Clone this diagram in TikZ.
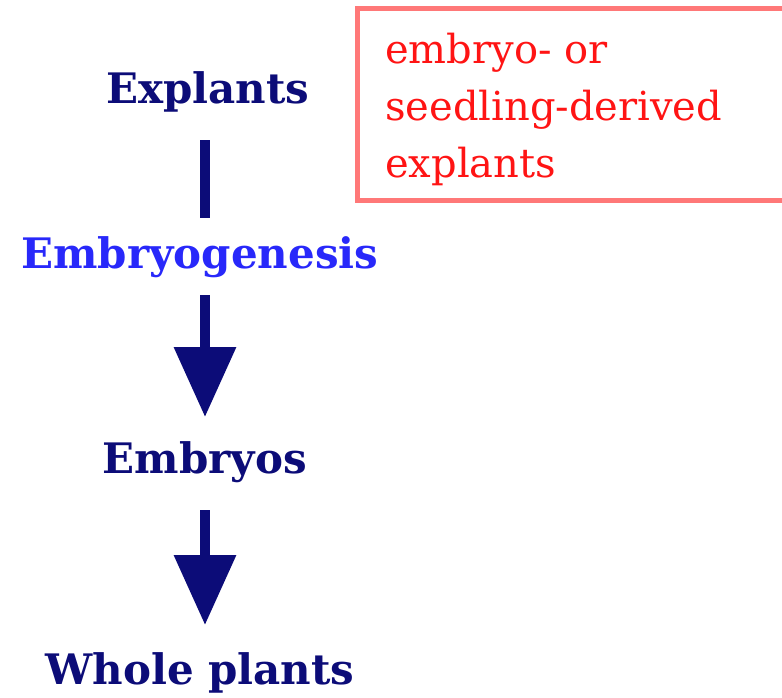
\documentclass[tikz,border=0pt]{standalone}
\usepackage{fontspec}
\setmainfont{DejaVu Serif}
\usetikzlibrary{arrows.meta}
\definecolor{navy}{RGB}{12,12,120}
\definecolor{lblue}{RGB}{40,40,250}
\definecolor{boxred}{RGB}{255,120,120}
\definecolor{txtred}{RGB}{255,20,20}
\tikzset{
  x=1pt, y=-1pt,
  stage/.style={font=\fontsize{42}{48}\selectfont\bfseries, text=navy, inner sep=0pt, anchor=base},
  shaft/.style={draw=navy, line width=10pt},
  bigarrow/.style={shaft, -{Triangle[length=70pt, width=60pt]}},
  notebox/.style={draw=boxred, line width=5pt},
  notetext/.style={text=txtred, align=left, anchor=north west, inner sep=0pt,
    font=\fontsize{40}{57}\selectfont}
}
\begin{document}
\begin{tikzpicture}
\useasboundingbox (0,0) rectangle (782,697);
\clip (0,0) rectangle (782,697);
\coordinate (axis) at (205,0);
\node[stage] (expl) at (208,103) {Explants};
\node[stage, text=lblue] (embg) at (200,268) {Embryogenesis};
\node[stage] (embs) at (205,473) {Embryos};
\node[stage] (whole) at (200,684) {Whole plants};
\draw[notebox] (357,8) rectangle (800,200);
\node[notetext] (note) at (385,33) {embryo- or\\seedling-derived\\explants};
\coordinate (l1a) at ([yshift=-37pt]expl.base);
\coordinate (l1b) at ([yshift=-56pt]expl.base);
\path (l1a) ++(0,0) coordinate (dummy);
\draw[shaft] (l1a -| axis) -- ([yshift=18pt]embg.north -| axis);
\coordinate (a1a) at ([yshift=-27pt]embg.base);
\coordinate (a1b) at ([yshift=-149pt]embg.base);
\coordinate (a2a) at ([yshift=-37pt]embs.base);
\coordinate (a2b) at ([yshift=-152pt]embs.base);
\draw[bigarrow] (a1a -| axis) -- (a1b -| axis);
\draw[bigarrow] (a2a -| axis) -- (a2b -| axis);
\end{tikzpicture}
\end{document}
